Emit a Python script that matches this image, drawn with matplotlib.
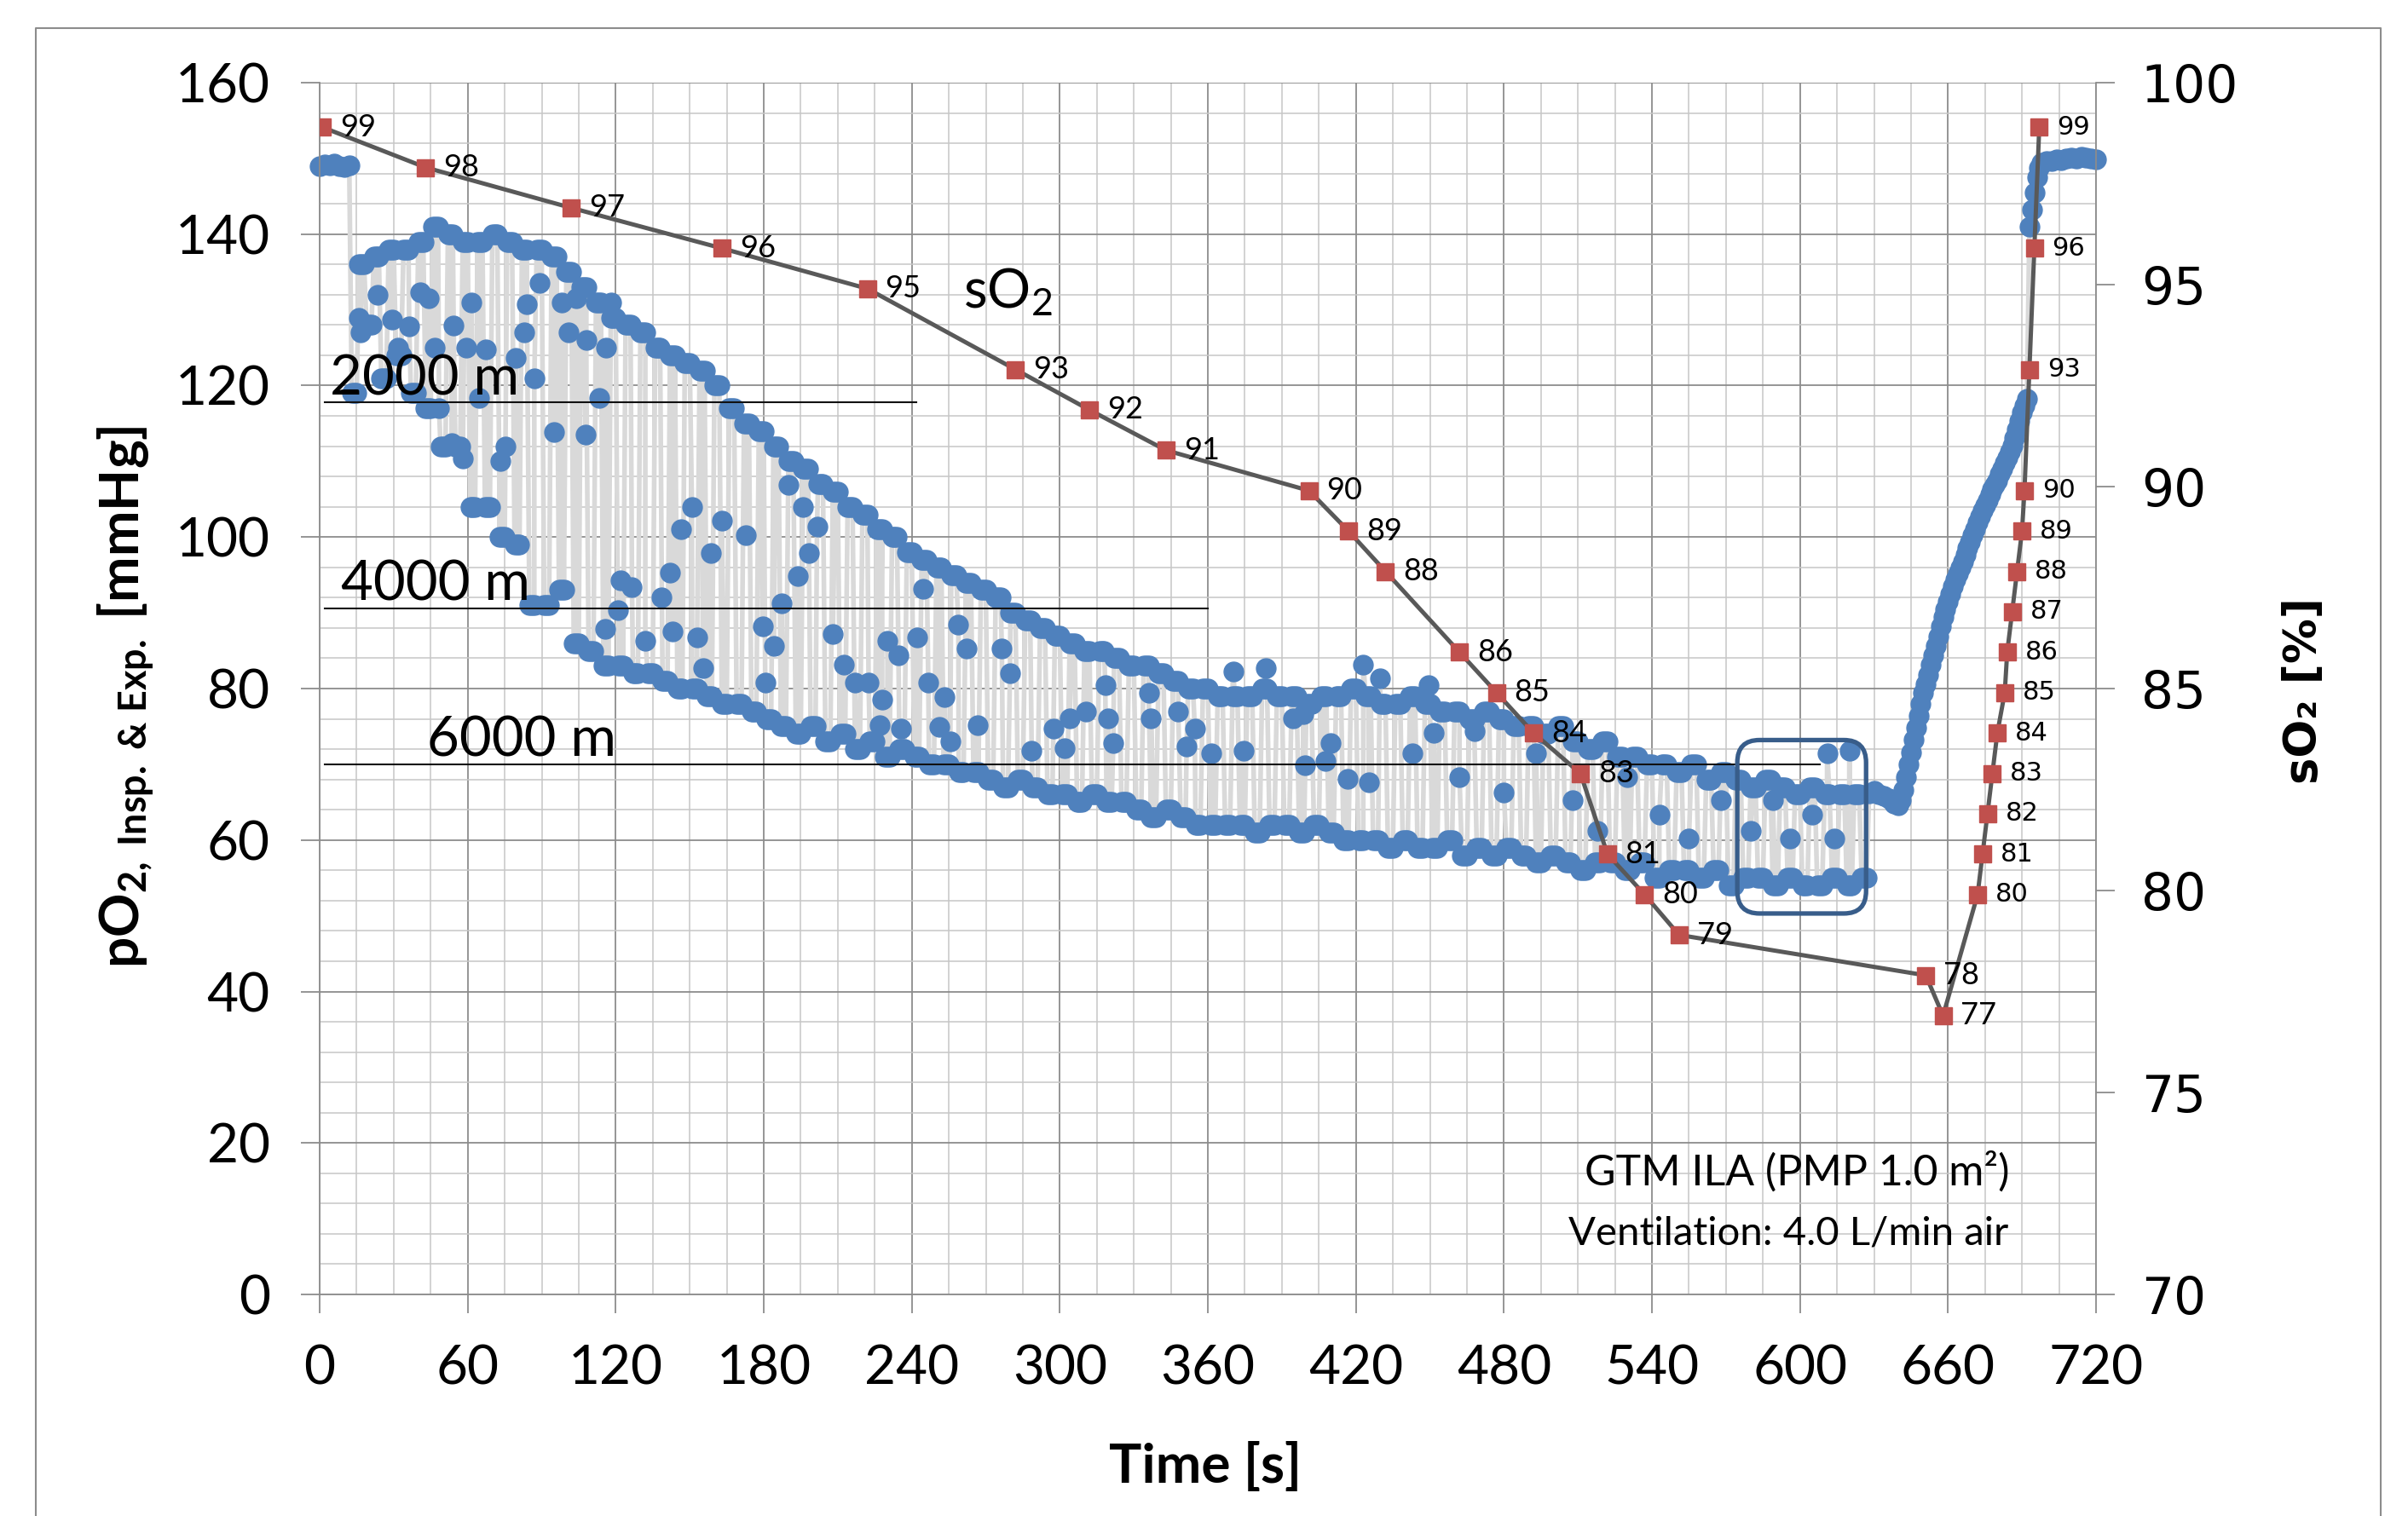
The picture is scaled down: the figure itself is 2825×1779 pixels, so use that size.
import numpy as np
import matplotlib
matplotlib.use("Agg")
import matplotlib.pyplot as plt
from matplotlib.patches import FancyBboxPatch
from matplotlib.lines import Line2D
from matplotlib.ticker import MultipleLocator

plt.rcParams['font.family'] = ['Lato', 'DejaVu Sans']
plt.rcParams['mathtext.fontset'] = 'custom'
plt.rcParams['mathtext.rm'] = 'Lato'
plt.rcParams['mathtext.bf'] = 'Lato:bold'
plt.rcParams['mathtext.it'] = 'Lato:italic'
plt.rcParams['mathtext.default'] = 'regular'

W, H = 2825, 1779

# pO2 (mmHg) - baseline before hypoxia, sampled every 2 s from t=0
base_po2 = [149.0, 149.2, 149.1, 149.3, 149.0, 148.9, 149.1]

# expiratory plateau per breath (centre every 6 s from t=14)
exp_po2 = [119, 128, 121, 124, 119, 117, 112, 112, 104, 104,
           100, 99, 91, 91, 93, 86, 85, 83, 83, 82,
           82, 81, 80, 80, 79, 78, 78, 77, 76, 75,
           74, 75, 73, 74, 72, 73, 71, 72, 71, 70,
           70, 69, 69, 68, 67, 68, 67, 66, 66, 65,
           66, 65, 65, 64, 63, 64, 63, 62, 62, 62,
           62, 61, 62, 62, 61, 62, 61, 60, 60, 60,
           59, 60, 59, 59, 60, 58, 59, 58, 59, 58,
           57, 58, 57, 56, 57, 57, 56, 57, 55, 56,
           56, 55, 56, 54, 55, 55, 54, 55, 54, 54,
           55, 54, 55]

# inspiratory plateau per breath (centre every 6 s from t=17)
insp_po2 = [136, 137, 138, 138, 139, 141, 140, 139, 139, 140,
            139, 138, 138, 137, 135, 133, 131, 129, 128, 127,
            125, 124, 123, 122, 120, 117, 115, 114, 112, 110,
            109, 107, 106, 104, 103, 101, 100, 98, 97, 96,
            95, 94, 93, 92, 90, 89, 88, 87, 86, 85,
            85, 84, 83, 83, 82, 81, 80, 80, 79, 79,
            79, 80, 79, 79, 78, 79, 79, 80, 79, 78,
            78, 79, 78, 77, 77, 76, 77, 76, 75, 75,
            74, 75, 73, 72, 73, 71, 71, 70, 70, 69,
            70, 68, 69, 68, 67, 68, 67, 66, 67, 66,
            66, 66]

# isolated transitional samples (time s, pO2 mmHg)
trans_t = [16, 16.5, 23.5, 29.5, 31.8, 36.3, 40.8, 44.2, 46.6, 48.4,
           53.6, 54.3, 58, 59.4, 61.5, 64.6, 67.4, 73.2, 75.3, 79.5,
           82.9, 84, 87, 89.2, 95, 98, 101, 104, 107.8, 108,
           113.3, 115.6, 116, 118, 121, 122, 126.6, 132, 138.7, 142,
           143, 146.5, 150.9, 153, 155.3, 158.6, 163, 172.9, 179.5, 180.6,
           184, 187.2, 190, 193.8, 196, 198.3, 201.6, 208, 212.6, 217,
           222.5, 227, 228, 230.2, 234.6, 235.7, 242.3, 244.5, 246.7, 251,
           253.4, 255.6, 258.9, 262.2, 266.6, 276.5, 279.8, 288.6, 297.4, 301.8,
           304, 310.7, 318.4, 319.5, 321.7, 336, 337, 348, 351.4, 354.7,
           361.4, 370.2, 374.6, 383.4, 394.4, 398.8, 399.5, 407.6, 409.8, 416.5,
           423, 425.3, 429.7, 443, 449.5, 451.7, 462, 468, 480, 493,
           508, 518, 530, 543, 555, 568, 580, 589, 596, 605,
           611, 614, 620]
trans_po2 = [129, 127, 132, 128.7, 125, 127.8, 132.3, 131.5, 125, 117,
             112.4, 127.9, 110.4, 125, 131, 118.4, 124.8, 110, 112, 123.7,
             127, 130.7, 121, 133.6, 113.9, 131, 127, 131.5, 113.5, 126,
             118.4, 87.9, 125, 131, 90.3, 94.3, 93.4, 86.3, 92, 95.3,
             87.5, 101, 104, 86.8, 82.7, 97.9, 102.2, 100.3, 88.2, 80.8,
             85.6, 91.3, 106.9, 94.8, 104, 97.9, 101.4, 87.2, 83.2, 80.8,
             80.8, 75.2, 78.5, 86.3, 84.4, 74.7, 86.8, 93.2, 80.8, 74.9,
             78.9, 73, 88.4, 85.3, 75.2, 85.3, 82, 71.8, 74.7, 72.1,
             76.1, 77, 80.4, 76.1, 72.8, 79.4, 76.1, 77, 72.3, 74.7,
             71.4, 82.3, 71.8, 82.7, 76.1, 76.6, 69.9, 70.4, 72.8, 68.1,
             83.2, 67.6, 81.3, 71.4, 80.4, 74.2, 68.3, 74.4, 66.3, 71.4,
             65.3, 61.2, 68.3, 63.3, 60.2, 65.3, 61.2, 65.3, 60.2, 63.3,
             71.4, 60.2, 71.8]

# after ventilation stop, every 2 s from t=628
post_po2 = [66.2, 66.5, 66.0, 65.8, 65.5, 64.8]

# recovery, every 1 s from t=640
rise_po2 = [64.6, 65.3, 66.6, 68.3, 70.0, 71.6, 73.2, 74.8, 76.4, 78.0,
            79.4, 80.6, 81.8, 83.1, 84.4, 85.6, 86.9, 88.2, 89.4, 90.5,
            91.5, 92.5, 93.5, 94.4, 95.2, 96.0, 96.8, 97.7, 98.6, 99.4,
            100.2, 101.0, 101.9, 102.7, 103.5, 104.2, 104.9, 105.6, 106.3, 106.9,
            107.5, 108.3, 109.0, 109.8, 110.5, 111.3, 112.1, 113.1, 114.2, 115.3,
            116.4, 117.4, 118.2, 141.0, 143.2, 145.5, 147.5, 148.8]

# back on normal air, every 2 s from t=698
end_po2 = [149.4, 149.6, 149.7, 149.9, 149.8, 150.0,
           150.1, 150.0, 150.2, 150.1, 150.0, 149.9]

# sO2 (%) blood gas samples
so2_time = [1, 43, 102, 163, 222, 282, 312, 343, 401, 417, 432, 462, 477, 492,
            511, 522, 537, 551, 651, 658, 672, 674, 676, 678, 680, 683, 684,
            686, 688, 690, 691, 693, 695, 697]
so2_val = [98.9, 97.9, 96.9, 95.9, 94.9, 92.9, 91.9, 90.9, 89.9, 88.9, 87.9,
           85.9, 84.9, 83.9, 82.9, 80.9, 79.9, 78.9, 77.9, 76.9, 79.9, 80.9,
           81.9, 82.9, 83.9, 84.9, 85.9, 86.9, 87.9, 88.9, 89.9, 92.9, 95.9, 98.9]

# simulated altitude reference levels
alt_names = ["2000 m", "4000 m", "6000 m"]
alt_po2 = [117.8, 90.6, 70.0]
alt_tend = [242, 360, 608]


def plateau(centres, values):
    # each breath plateau is sampled 3 times at 1 s spacing
    t = np.repeat(centres, 3) + np.tile([-1, 0, 1], len(centres))
    return t, np.repeat(values, 3)


ex_t, ex_p = plateau(14 + 6 * np.arange(len(exp_po2)), exp_po2)
in_t, in_p = plateau(17 + 6 * np.arange(len(insp_po2)), insp_po2)

t_all = np.concatenate([
    np.arange(len(base_po2)) * 2, ex_t, in_t, trans_t,
    628 + 2 * np.arange(len(post_po2)),
    640 + np.arange(len(rise_po2)),
    698 + 2 * np.arange(len(end_po2)),
]).astype(float)
p_all = np.concatenate([base_po2, ex_p, in_p, trans_po2, post_po2, rise_po2, end_po2])
order = np.argsort(t_all, kind="stable")
t_all, p_all = t_all[order], p_all[order]

fig = plt.figure(figsize=(W / 100, H / 100), dpi=100)
ax = fig.add_axes([375 / W, 1 - 1519 / H, (2459 - 375) / W, (1519 - 97) / H])

grid_major = '#8C8C8C'
grid_minor = '#C6C6C6'

ax.set_xlim(0, 720)
ax.set_ylim(0, 160)
ax.xaxis.set_major_locator(MultipleLocator(60))
ax.xaxis.set_minor_locator(MultipleLocator(15))
ax.yaxis.set_major_locator(MultipleLocator(20))
ax.yaxis.set_minor_locator(MultipleLocator(4))
ax.set_axisbelow(True)
ax.grid(which='minor', color=grid_minor, lw=1.1)
ax.grid(which='major', color=grid_major, lw=1.3)
ax.tick_params(which='major', direction='out', length=16, width=1.3,
               color=grid_major, labelsize=46, pad=26)
ax.tick_params(which='minor', length=0)
for s in ['top', 'right']:
    ax.spines[s].set_visible(False)
for s in ['left', 'bottom']:
    ax.spines[s].set_color(grid_major)
    ax.spines[s].set_linewidth(1.3)

# pO2 trace
ax.plot(t_all, p_all, '-', color='#D9D9D9', lw=4.0, marker='o', ms=16.5,
        mfc='#4F81BD', mec='#4F81BD', zorder=2, clip_on=False)

# altitude lines
for name, lvl, tend, tx in zip(alt_names, alt_po2, alt_tend, [4, 8.6, 43.5]):
    ax.plot([2, tend], [lvl, lvl], color='#111111', lw=1.5, zorder=3)
    ax.text(tx, lvl + 1.0, name, fontsize=47, ha='left', va='baseline', zorder=4)

# highlighted region
box = FancyBboxPatch((574.6, 50.3), 626.8 - 574.6, 73.2 - 50.3,
                     boxstyle="round,pad=0,rounding_size=9", mutation_aspect=0.33,
                     fill=False, ec='#385D8A', lw=3.8, zorder=3)
ax.add_patch(box)

ax.text(684.8, 16.2, "GTM ILA (PMP 1.0 m²)", fontsize=36, ha='right', va='center', zorder=4)
ax.text(684.5, 8.1, "Ventilation: 4.0 L/min air", fontsize=34, ha='right', va='center', zorder=4)
ax.text(261, 132.4, r"sO$_2$", fontsize=46, ha='left', va='center', zorder=4)

# sO2 on secondary axis
ax2 = ax.twinx()
ax2.set_ylim(70, 100)
ax2.yaxis.set_major_locator(MultipleLocator(5))
ax2.tick_params(direction='out', length=16, width=1.3, color=grid_major,
                labelsize=43, pad=22)
for lab in ax2.get_yticklabels():
    lab.set_fontfamily('DejaVu Sans')
for s in ['top', 'left', 'bottom']:
    ax2.spines[s].set_visible(False)
ax2.spines['right'].set_color(grid_major)
ax2.spines['right'].set_linewidth(1.3)

ax2.plot(so2_time, so2_val, '-', color='#595959', lw=3.6, marker='s', ms=15,
         mfc='#C0504D', mec='#C0504D', zorder=5)
for i, (t, v) in enumerate(zip(so2_time, so2_val)):
    if i >= 20:
        fam, fs = 'DejaVu Sans', 22
    else:
        fam, fs = 'Lato', 26
    ax2.annotate(f"{v:.0f}", (t, v), xytext=(15, 0), textcoords='offset points',
                 ha='left', va='center', fontsize=fs, family=fam, zorder=6)

# axis titles
fig.text(148 / W, 1 - 818 / H, r"pO$_\mathbf{2,\ Insp.\ &\ Exp.}$ [mmHg]",
         rotation=90, ha='center', va='center', fontsize=46, fontweight='bold')
fig.text(2703 / W, 1 - 811 / H, "sO₂ [%]", rotation=90, ha='center', va='center',
         fontsize=38, fontweight='bold', family='DejaVu Sans')
fig.text(1414 / W, 1 - 1721 / H, "Time [s]", ha='center', va='center',
         fontsize=46, fontweight='bold')

# outer chart frame
frame_x = [42 / W, 42 / W, 2793 / W, 2793 / W]
frame_y = [0, 1 - 33 / H, 1 - 33 / H, 0]
fig.add_artist(Line2D(frame_x, frame_y, transform=fig.transFigure,
                      color='#8C8C8C', lw=1.5))

fig.savefig("out.png", dpi=100)
